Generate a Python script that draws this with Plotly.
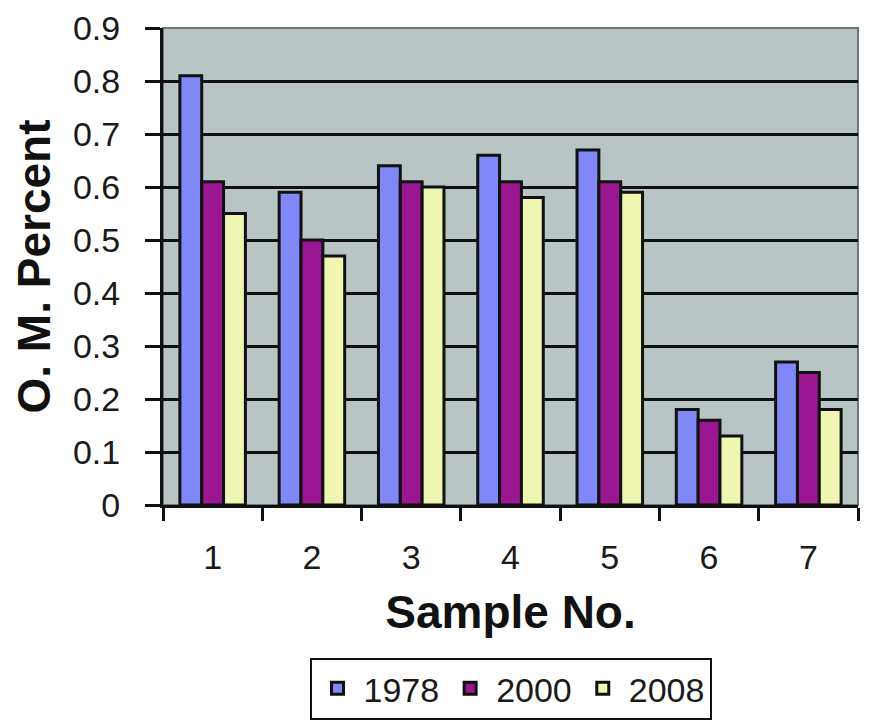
import plotly.graph_objects as go

categories = ["1", "2", "3", "4", "5", "6", "7"]
series_names = ["1978", "2000", "2008"]
v1978 = [0.81, 0.59, 0.64, 0.66, 0.67, 0.18, 0.27]
v2000 = [0.61, 0.50, 0.61, 0.61, 0.61, 0.16, 0.25]
v2008 = [0.55, 0.47, 0.60, 0.58, 0.59, 0.13, 0.18]
y_ticks = [0, 0.1, 0.2, 0.3, 0.4, 0.5, 0.6, 0.7, 0.8, 0.9]
y_ticklabels = ["0", "0.1", "0.2", "0.3", "0.4", "0.5", "0.6", "0.7", "0.8", "0.9"]

colors = ["#7f88f6", "#9a1791", "#eef6b2"]
FONT = "Liberation Sans, Arial, sans-serif"

fig = go.Figure()
for name, vals, col in zip(series_names, [v1978, v2000, v2008], colors):
    fig.add_trace(go.Bar(
        x=categories, y=vals, name=name,
        marker=dict(color=col, line=dict(color="#111111", width=3)),
    ))

fig.update_layout(
    width=869, height=722,
    margin=dict(l=155, r=19, t=20, b=225, autoexpand=False),
    paper_bgcolor="white",
    plot_bgcolor="#b9c5c4",
    barmode="group",
    bargap=0.34,
    bargroupgap=0,
    font=dict(family=FONT, color="#1a1a1a", size=34),
    showlegend=True,
    legend=dict(
        orientation="h",
        x=0.5, xanchor="center",
        y=-0.32, yanchor="top",
        bgcolor="white",
        bordercolor="#111111", borderwidth=2,
        font=dict(size=34, family=FONT, color="#1a1a1a"),
        itemwidth=42,
        tracegroupgap=0,
    ),
    xaxis=dict(
        type="category",
        automargin=False,
        tickson="boundaries",
        ticks="outside", ticklen=13, tickwidth=3, tickcolor="#111111",
        ticklabelstandoff=20,
        showline=True, linecolor="#111111", linewidth=3,
        showgrid=False,
        tickfont=dict(size=34, family=FONT),
        title=dict(text="<b>Sample No.</b>", font=dict(size=46, family=FONT, color="#111111"), standoff=22),
    ),
    yaxis=dict(
        range=[0, 0.9],
        automargin=False,
        tickvals=y_ticks, ticktext=y_ticklabels,
        ticks="outside", ticklen=15, tickwidth=3, tickcolor="#111111",
        ticklabelstandoff=18,
        ticklabeloverflow="allow",
        showline=True, linecolor="#111111", linewidth=3,
        showgrid=True, gridcolor="#111111", gridwidth=3,
        zeroline=False,
        tickfont=dict(size=34, family=FONT),
        title=dict(text="<b>O. M. Percent</b>", font=dict(size=46, family=FONT, color="#111111"), standoff=17),
    ),
)

fig.add_shape(type="rect", xref="paper", yref="paper", x0=0, x1=1, y0=0, y1=1,
              line=dict(color="#6d7978", width=2), layer="below")

fig.write_html("out.html")
